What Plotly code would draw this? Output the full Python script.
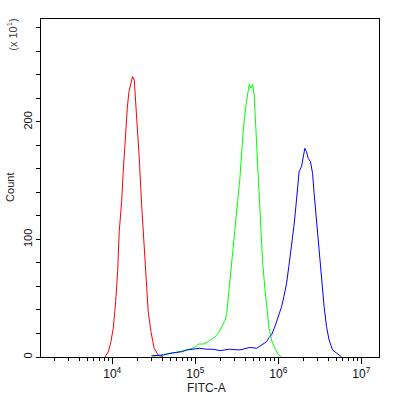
import plotly.graph_objects as go
import numpy as np

# log10(FITC-A) exponents and counts (x10)
red_log = [3.912, 3.952, 3.984, 4.012, 4.041, 4.065, 4.084, 4.113, 4.132, 4.153, 4.181, 4.201,
           4.225, 4.245, 4.265, 4.282, 4.306, 4.325, 4.354, 4.378, 4.402, 4.433, 4.466, 4.505,
           4.554, 4.614]
red_cnt = [0, 4.5, 13, 24.4, 47, 72.6, 106.6, 132, 157.7, 183.2, 211.7, 225.8,
           234.3, 238.6, 235.7, 217, 195, 169.5, 129.4, 101.1, 67, 38.6, 21.6, 7.4,
           1.7, 0]

green_log = [4.474, 4.574, 4.634, 4.694, 4.755, 4.815, 4.875, 4.935, 4.995, 5.035, 5.095, 5.155,
             5.215, 5.236, 5.284, 5.320, 5.356, 5.377, 5.396, 5.416, 5.437, 5.456, 5.485, 5.509,
             5.537, 5.557, 5.576, 5.605, 5.625, 5.649, 5.669, 5.690, 5.709, 5.726, 5.745, 5.765,
             5.786, 5.810, 5.838, 5.865, 5.889, 5.918, 5.958, 5.998, 6.039]
green_cnt = [1, 1, 2.3, 3.1, 3.7, 4.5, 5.4, 6.8, 8.2, 11, 11, 13,
             15.9, 17, 21, 26, 31, 36, 50, 64, 75.5, 92.5, 112.3, 132,
             152, 172, 191.7, 211.7, 223, 232, 228.7, 232, 223, 197.4, 172, 140.7,
             109.5, 81, 58.5, 41.4, 24.4, 14.5, 7.4, 2.3, 0]

blue_log = [4.474, 4.614, 4.694, 4.775, 4.835, 4.895, 4.975, 5.055, 5.136, 5.215, 5.296, 5.416,
            5.537, 5.657, 5.738, 5.817, 5.858, 5.889, 5.918, 5.958, 5.998, 6.039, 6.066, 6.099,
            6.126, 6.159, 6.187, 6.211, 6.231, 6.250, 6.279, 6.298, 6.319, 6.339, 6.359, 6.387,
            6.412, 6.431, 6.451, 6.472, 6.491, 6.511, 6.532, 6.551, 6.580, 6.611, 6.652, 6.700,
            6.740, 6.761]
blue_cnt = [1, 1.7, 3.1, 3.7, 4.5, 6, 6.6, 7.4, 6.6, 6.6, 5.4, 6.6,
            6, 8.2, 7.4, 11, 13, 16.8, 18.7, 25.8, 34.3, 42.8, 51.3, 62.7,
            76.9, 93.9, 110.9, 127.9, 144.9, 157.7, 162, 169, 177.6, 174.7, 169, 166.2,
            156.3, 139.3, 122.3, 105.3, 88.3, 71.2, 57, 42.8, 25.8, 14.5, 6, 3.1,
            0.9, 0]

x_major = [1e4, 1e5, 1e6, 1e7]
x_major_text = ["10<sup>4</sup>", "10<sup>5</sup>", "10<sup>6</sup>", "10<sup>7</sup>"]
x_minor = [m * 10 ** e for e in (3, 4, 5, 6) for m in range(2, 10)]
y_major = [0, 100, 200]
y_minor = list(range(0, 281, 20))

fig = go.Figure()
for lg, cnt, col in ((red_log, red_cnt, "#ff0000"),
                     (green_log, green_cnt, "#00ff00"),
                     (blue_log, blue_cnt, "#0000ff")):
    fig.add_trace(go.Scatter(x=np.power(10.0, lg), y=cnt, mode="lines",
                             line=dict(color=col, width=1), showlegend=False,
                             hoverinfo="skip"))

fig.update_layout(
    width=399, height=396,
    margin=dict(l=41, r=20, t=19, b=39),
    paper_bgcolor="white", plot_bgcolor="white",
    font=dict(family="Liberation Sans, Arial, sans-serif", size=10, color="black"),
    xaxis=dict(type="log", range=[3.142, 7.212], showgrid=False, zeroline=False,
               automargin=False,
               showline=True, linecolor="black", linewidth=1, mirror=True,
               ticks="outside", ticklen=6, tickcolor="black", tickwidth=1,
               tickmode="array", tickvals=x_major, ticktext=x_major_text,
               tickfont=dict(size=12, color="#111111"),
               minor=dict(tickmode="array", tickvals=x_minor, ticks="outside",
                          ticklen=3, tickcolor="black", tickwidth=1, showgrid=False)),
    yaxis=dict(range=[0, 287.6], showgrid=False, zeroline=False,
               automargin=False,
               showline=True, linecolor="black", linewidth=1, mirror=True,
               ticks="outside", ticklen=4, tickcolor="black", tickwidth=1,
               tickmode="array", tickvals=y_major,
               tickangle=-90, tickfont=dict(size=11, color="#111111"),
               minor=dict(tickmode="array", tickvals=y_minor, ticks="outside",
                          ticklen=4, tickcolor="black", tickwidth=1, showgrid=False)),
    annotations=[
        dict(text="(x 10<sup>1</sup>)", xref="paper", yref="paper", x=-0.0857, y=0.9535,
             showarrow=False, textangle=-90, font=dict(size=11, color="#444444"),
             xanchor="center", yanchor="middle"),
        dict(text="Count", xref="paper", yref="paper", x=-0.0916, y=0.5004,
             showarrow=False, textangle=-90, font=dict(size=11, color="#222222"),
             xanchor="center", yanchor="middle"),
        dict(text="FITC-A", xref="paper", yref="paper", x=0.4907, y=-0.0918,
             showarrow=False, font=dict(size=12, color="#222222"),
             xanchor="center", yanchor="middle"),
    ],
)

fig.write_html("out.html", config={"displayModeBar": False},
               post_script="document.body.style.margin='0';")
